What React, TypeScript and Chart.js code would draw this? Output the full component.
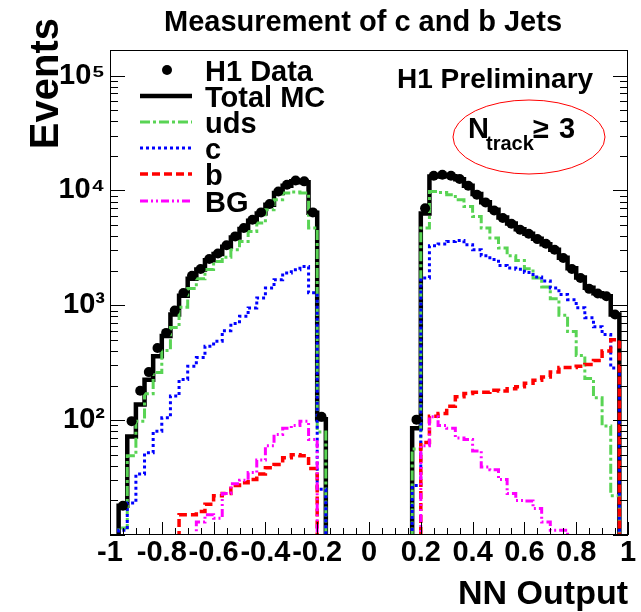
import React, { useEffect, useRef } from 'react';
import { Chart, registerables } from 'chart.js';

Chart.register(...registerables);

// ---- histogram binning (NN output, 60 bins on [-1, 1]) ----
const X_MIN = -1;
const X_MAX = 1;
const N_BINS = 60;
const LEFT_FIRST_BIN = 1; // first filled bin of the left region
const RIGHT_FIRST_BIN = 35; // first filled bin of the right region
const EMPTY = 1; // empty bin (below the log axis)

// ---- series values, left region (24 bins) ----
const dataLeft = [18, 98, 180, 262, 425, 575, 900, 1280, 1810, 2070, 2530, 2820, 3330, 3980, 4710, 5560, 6440, 7620, 9800, 11200, 12200, 12000, 6440, 107];
const totalLeft = [18, 72, 137, 225, 360, 540, 830, 1210, 1700, 2050, 2470, 2800, 3230, 3900, 4620, 5450, 6300, 7500, 9500, 11000, 12000, 11800, 6400, 102];
const udsLeft = [11.5, 49, 98, 170, 260, 405, 640, 960, 1400, 1700, 2050, 2400, 2620, 3050, 3600, 4400, 5200, 6800, 8300, 9480, 9680, 9480, 4710, 79];
const cLeft = [11, 19, 34, 52, 80, 105, 162, 226, 295, 351, 440, 486, 600, 694, 803, 949, 1159, 1416, 1672, 1910, 2040, 2180, 1283, 25];
const bLeft = [5, 5, 5, 5, 5, 5, 5, 15, 15, 16, 18.5, 22, 23, 27, 28.5, 30.5, 34, 38.5, 41, 47, 50, 49, 38, 5];
const bgLeft = [5, 5, 5, 5, 5, 5, 5, 5, 8, 13, 15, 14, 23, 28, 30, 35, 45, 60, 75, 85, 90, 98, 68, 5];

// ---- series values, right region (24 bins) ----
const dataRight = [101, 7000, 13400, 13700, 13400, 12560, 11000, 9190, 7870, 6700, 5750, 5130, 4550, 4200, 3770, 3435, 3050, 2580, 2070, 1730, 1390, 1265, 1200, 830];
const totalRight = [85, 6300, 13200, 13500, 13300, 12500, 11000, 9300, 7900, 6800, 5800, 5150, 4600, 4200, 3800, 3400, 3050, 2600, 2100, 1750, 1420, 1270, 1200, 830];
const udsRight = [56, 4710, 9800, 9610, 9190, 8300, 7260, 5940, 4710, 3850, 3160, 2700, 2450, 2080, 1730, 1440, 1140, 820, 590, 365, 231, 157, 89, 22];
const cRight = [27, 1730, 3300, 3420, 3600, 3670, 3370, 3050, 2700, 2500, 2215, 2115, 2060, 1925, 1765, 1630, 1415, 1240, 1120, 950, 780, 650, 556, 285];
const bRight = [5, 64, 108, 114, 132, 160, 171, 175, 175, 182, 179, 188, 195, 210, 222, 238, 262, 288, 288, 295, 305, 330, 400, 500];
const bgRight = [5, 60, 107, 90, 85, 70, 68, 54, 39, 37, 30.5, 23, 20, 19.8, 17, 13, 11, 11, 5, 5, 5, 5, 5, 5];

// ---- axes ----
const X_TICKS = [-1, -0.8, -0.6, -0.4, -0.2, 0, 0.2, 0.4, 0.6, 0.8, 1];
const X_TICK_LABELS = ['-1', '-0.8', '-0.6', '-0.4', '-0.2', '0', '0.2', '0.4', '0.6', '0.8', '1'];
const Y_TICKS = [100, 1000, 10000, 100000];
const Y_TICK_LABELS = ['10\u00B2', '10\u00B3', '10\u2074', '10\u2075'];
const Y_MIN = 10;
const Y_MAX = 167000;

const TITLE = 'Measurement of c and b Jets';
const X_TITLE = 'NN Output';
const Y_TITLE = 'Events';
const LEGEND_LABELS = ['H1 Data', 'Total MC', 'uds', 'c', 'b', 'BG'];

const FONT = "'Liberation Sans', Arial, Helvetica, sans-serif";

const binWidth = (X_MAX - X_MIN) / N_BINS;
const edge = (i: number) => X_MIN + i * binWidth;

function fullHist(left: number[], right: number[]): number[] {
  const h = new Array(N_BINS).fill(EMPTY);
  left.forEach((v, k) => (h[LEFT_FIRST_BIN + k] = v));
  right.forEach((v, k) => (h[RIGHT_FIRST_BIN + k] = v));
  return h;
}

function histPoints(left: number[], right: number[]) {
  const h = fullHist(left, right);
  const pts: { x: number; y: number }[] = [];
  h.forEach((v, i) => {
    pts.push({ x: edge(i), y: v });
    pts.push({ x: edge(i + 1), y: v });
  });
  return pts;
}

function dataPoints(left: number[], right: number[]) {
  const pts: { x: number; y: number }[] = [];
  left.forEach((v, k) => pts.push({ x: edge(LEFT_FIRST_BIN + k) + binWidth / 2, y: v }));
  right.forEach((v, k) => pts.push({ x: edge(RIGHT_FIRST_BIN + k) + binWidth / 2, y: v }));
  return pts;
}

const GREEN = 'rgb(89,212,84)';
const BLUE = 'rgb(0,0,255)';
const RED = 'rgb(255,0,0)';
const MAGENTA = 'rgb(255,0,255)';

const STYLES = {
  total: { color: '#000', width: 4.5, dash: [] as number[] },
  uds: { color: GREEN, width: 3, dash: [10, 3, 3, 3] },
  c: { color: BLUE, width: 3, dash: [3, 3] },
  b: { color: RED, width: 3.5, dash: [8, 4] },
  bg: { color: MAGENTA, width: 3, dash: [8, 3, 2, 3, 2, 3] },
};

const decorPlugin = {
  id: 'decor',
  afterDatasetsDraw(chart: any) {
    const ctx = chart.ctx as CanvasRenderingContext2D;
    const { left, right, top, bottom } = chart.chartArea;
    const xs = chart.scales.x;
    const ys = chart.scales.y;
    ctx.save();
    // frame
    ctx.strokeStyle = '#000';
    ctx.lineWidth = 1;
    ctx.setLineDash([]);
    ctx.strokeRect(left + 0.5, top + 0.5, right - left - 1, bottom - top - 1);
    // y ticks (left & right)
    ctx.beginPath();
    for (let k = 1; k <= 5; k++) {
      for (let m = 1; m <= 9; m++) {
        const v = m * Math.pow(10, k);
        if (v < Y_MIN || v > Y_MAX) continue;
        const py = Math.round(ys.getPixelForValue(v)) + 0.5;
        const len = m === 1 ? 15 : 8;
        ctx.moveTo(left, py);
        ctx.lineTo(left + len, py);
        ctx.moveTo(right, py);
        ctx.lineTo(right - len, py);
      }
    }
    // x ticks
    for (let i = 0; i <= 40; i++) {
      const v = X_MIN + i * 0.05;
      const px = Math.round(xs.getPixelForValue(v)) + 0.5;
      const len = i % 4 === 0 ? 13 : 7;
      ctx.moveTo(px, bottom);
      ctx.lineTo(px, bottom - len);
    }
    ctx.stroke();

    ctx.fillStyle = '#000';
    // title
    ctx.font = `bold 29px ${FONT}`;
    ctx.textAlign = 'center';
    ctx.textBaseline = 'alphabetic';
    ctx.fillText(TITLE, 363, 31);
    // x title
    ctx.font = `bold 34px ${FONT}`;
    ctx.textAlign = 'right';
    ctx.fillText(X_TITLE, 628, 604);
    // y title
    ctx.save();
    ctx.translate(58, 18);
    ctx.rotate(-Math.PI / 2);
    ctx.font = `bold 40px ${FONT}`;
    ctx.textAlign = 'right';
    ctx.fillText(Y_TITLE, 0, 0);
    ctx.restore();

    // legend
    const rows = [70, 96, 122, 148, 174, 201];
    const x0 = 140, x1 = 192, tx = 205;
    ctx.font = `bold 29px ${FONT}`;
    ctx.textAlign = 'left';
    // data marker
    ctx.beginPath();
    ctx.arc(167, rows[0], 5, 0, Math.PI * 2);
    ctx.fill();
    const sty = [null, STYLES.total, STYLES.uds, STYLES.c, STYLES.b, STYLES.bg];
    sty.forEach((s, i) => {
      if (!s) return;
      ctx.beginPath();
      ctx.strokeStyle = s.color;
      ctx.lineWidth = s.width;
      ctx.setLineDash(s.dash);
      ctx.moveTo(x0, rows[i]);
      ctx.lineTo(x1, rows[i]);
      ctx.stroke();
    });
    ctx.setLineDash([]);
    LEGEND_LABELS.forEach((t, i) => ctx.fillText(t, tx, rows[i] + 11));

    // H1 Preliminary
    ctx.font = `bold 28px ${FONT}`;
    ctx.fillText('H1 Preliminary', 397, 88);

    // ellipse with N_track >= 3
    ctx.beginPath();
    ctx.strokeStyle = RED;
    ctx.lineWidth = 1;
    ctx.ellipse(529, 137, 76, 37, 0, 0, Math.PI * 2);
    ctx.stroke();
    ctx.font = `bold 29px ${FONT}`;
    ctx.fillText('N', 468, 138);
    ctx.font = `bold 20px ${FONT}`;
    ctx.fillText('track', 486, 150);
    ctx.font = `bold 29px ${FONT}`;
    ctx.fillText('\u2265', 533, 138);
    ctx.fillText('3', 559, 138);
    ctx.restore();
  },
};

export default function App() {
  const ref = useRef<HTMLCanvasElement | null>(null);
  useEffect(() => {
    if (!ref.current) return;
    const line = (pts: any, s: any, order: number) => ({
      data: pts,
      borderColor: s.color,
      borderWidth: s.width,
      borderDash: s.dash,
      pointRadius: 0,
      fill: false,
      tension: 0,
      order,
    });
    const chart = new Chart(ref.current, {
      type: 'line',
      data: {
        datasets: [
          {
            data: dataPoints(dataLeft, dataRight),
            showLine: false,
            pointRadius: 5,
            pointBackgroundColor: '#000',
            pointBorderColor: '#000',
            pointBorderWidth: 0,
            order: 0,
          } as any,
          line(histPoints(bgLeft, bgRight), STYLES.bg, 1),
          line(histPoints(bLeft, bRight), STYLES.b, 2),
          line(histPoints(cLeft, cRight), STYLES.c, 3),
          line(histPoints(udsLeft, udsRight), STYLES.uds, 4),
          line(histPoints(totalLeft, totalRight), STYLES.total, 5),
        ],
      },
      options: {
        animation: false,
        responsive: false,
        devicePixelRatio: 1,
        parsing: false as any,
        normalized: true,
        layout: { padding: { top: 50, right: 13, left: 0, bottom: 0 }, autoPadding: false } as any,
        plugins: {
          legend: { display: false },
          title: { display: false },
          tooltip: { enabled: false },
        },
        scales: {
          x: {
            type: 'linear',
            min: X_MIN,
            max: X_MAX,
            grid: { display: false, drawTicks: false },
            border: { display: false },
            ticks: {
              color: '#000',
              font: { family: FONT, size: 29, weight: 'bold' },
              autoSkip: false,
              maxRotation: 0,
              minRotation: 0,
              padding: 1,
              callback: (_v: any, i: number) => X_TICK_LABELS[i],
            },
            afterBuildTicks: (s: any) => {
              s.ticks = X_TICKS.map((v) => ({ value: v }));
            },
            afterFit: (s: any) => {
              s.height = 77;
            },
          },
          y: {
            type: 'logarithmic',
            min: Y_MIN,
            max: Y_MAX,
            grid: { display: false, drawTicks: false },
            border: { display: false },
            ticks: {
              color: '#000',
              font: { family: FONT, size: 29, weight: 'bold' },
              padding: 5,
              autoSkip: false,
              callback: (_v: any, i: number) => Y_TICK_LABELS[i],
            },
            afterBuildTicks: (s: any) => {
              s.ticks = Y_TICKS.map((v) => ({ value: v }));
            },
            afterFit: (s: any) => {
              s.width = 110;
            },
          },
        },
      } as any,
      plugins: [decorPlugin],
    });
    return () => chart.destroy();
  }, []);
  return (
    <canvas
      ref={ref}
      width={641}
      height={612}
      style={{ position: 'absolute', left: 0, top: 0, width: 641, height: 612 }}
    />
  );
}
